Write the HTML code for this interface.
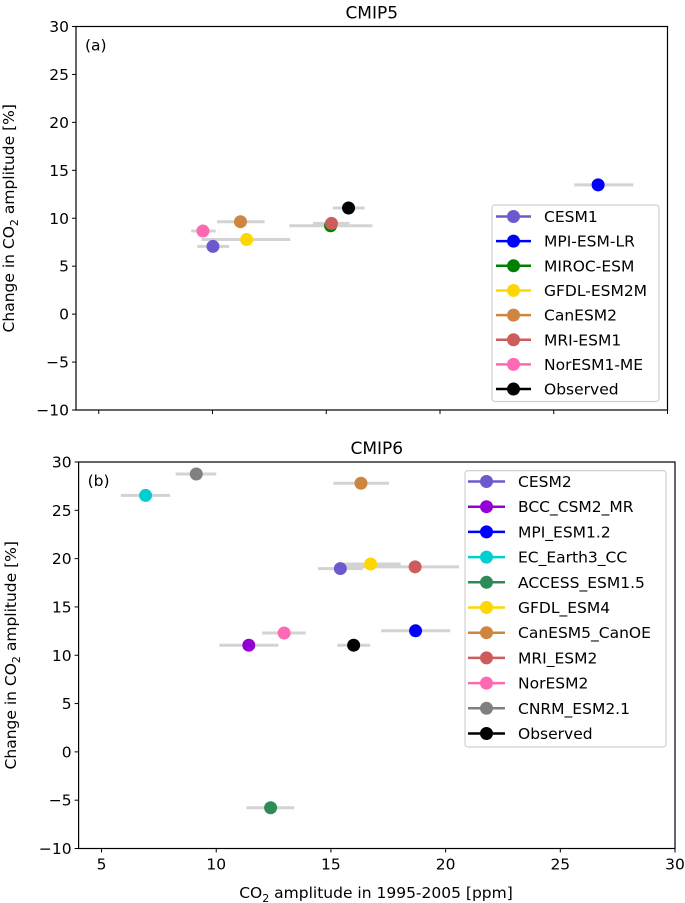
<!DOCTYPE html>
<html><head><meta charset="utf-8"><style>
html,body{margin:0;padding:0;background:#fff;}
svg{display:block;font-family:"DejaVu Sans","Liberation Sans",sans-serif;}
</style></head><body>
<svg id="chart" width="685" height="903" viewBox="0 0 685 903" xmlns="http://www.w3.org/2000/svg"></svg>
<script>
// Panel (a) CMIP5 data
const namesA = ["CESM1","MPI-ESM-LR","MIROC-ESM","GFDL-ESM2M","CanESM2","MRI-ESM1","NorESM1-ME","Observed"];
const colorsA = ["#6a5acd","#0000ff","#008000","#ffd700","#cd853f","#cd5c5c","#ff69b4","#000000"];
const xA = [10.02,26.95,15.19,11.5,11.23,15.23,9.58,15.98];
const yA = [7.06,13.48,9.22,7.78,9.64,9.46,8.67,11.07];
const xLoA = [9.33,25.9,13.38,9.52,10.2,14.42,9.06,15.29];
const xHiA = [10.73,28.5,17.03,13.42,12.29,16.02,10.14,16.69];
// Panel (b) CMIP6 data
const namesB = ["CESM2","BCC_CSM2_MR","MPI_ESM1.2","EC_Earth3_CC","ACCESS_ESM1.5","GFDL_ESM4","CanESM5_CanOE","MRI_ESM2","NorESM2","CNRM_ESM2.1","Observed"];
const colorsB = ["#6a5acd","#9400d3","#0000ff","#00ced1","#2e8b57","#ffd700","#cd853f","#cd5c5c","#ff69b4","#808080","#000000"];
const xB = [15.41,11.42,18.69,6.92,12.37,16.73,16.31,18.67,12.96,9.13,15.99];
const yB = [18.97,11.04,12.53,26.54,-5.78,19.44,27.8,19.15,12.3,28.76,11.04];
const xLoB = [14.44,10.14,17.19,5.84,11.32,15.49,15.11,15.35,12.0,8.23,15.28];
const xHiB = [16.39,12.71,20.2,7.99,13.4,18.04,17.53,20.58,13.9,10.0,16.71];
const xTicks = [5,10,15,20,25,30];
const yTicks = [-10,-5,0,5,10,15,20,25,30];

const NS="http://www.w3.org/2000/svg";
const svg=document.getElementById('chart');
function mk(tag,attrs,parent,text){const e=document.createElementNS(NS,tag);for(const k in attrs)e.setAttribute(k,attrs[k]);if(text!==undefined)e.textContent=text;(parent||svg).appendChild(e);return e;}

function panel(cfg){
  const g=mk('g',{});
  
  
  const L=cfg.left,R=cfg.right,T=cfg.top,B=cfg.bottom;
  const sx=v=>L+(v-4)/(30-4)*(R-L);
  const sy=v=>B-(v+10)/40*(B-T);
  const t=mk('text',{x:(L+R)/2,y:T-8,'text-anchor':'middle','font-size':17},g,cfg.title);
  
  
  for(let i=0;i<cfg.x.length;i++){
    const eb=mk('line',{x1:sx(cfg.lo[i]),x2:sx(cfg.hi[i]),y1:sy(cfg.y[i]),y2:sy(cfg.y[i]),stroke:'#d3d3d3','stroke-width':3},g);
    
    
  }
  for(let i=0;i<cfg.x.length;i++){
    const c=mk('circle',{cx:sx(cfg.x[i]),cy:sy(cfg.y[i]),r:6.5,fill:cfg.colors[i]},g);
    
    
  }
  const fr=mk('rect',{x:L,y:T,width:R-L,height:B-T,fill:'none',stroke:'#000','stroke-width':1.2},g);
  
  
  xTicks.forEach(v=>{
    mk('line',{x1:sx(v),x2:sx(v),y1:B,y2:B+4,stroke:'#000'},g);
    if(cfg.xlabels){const tl=mk('text',{x:sx(v),y:B+21,'text-anchor':'middle','font-size':15.5},g,String(v));
      
      }
  });
  yTicks.forEach(v=>{
    mk('line',{x1:L-4,x2:L,y1:sy(v),y2:sy(v),stroke:'#000'},g);
    const tl=mk('text',{x:L-7,y:sy(v)+5.5,'text-anchor':'end','font-size':15.5},g,(v<0?'\u2212'+(-v):String(v)));
    
    
  });
  const pl=mk('text',{x:L+9,y:T+24,'font-size':15.5},g,cfg.plabel);
  
  
  const yl=mk('text',{transform:`translate(${cfg.ylx},${(T+B)/2}) rotate(-90)`,'text-anchor':'middle','font-size':15.5},g);
  
  
  yl.innerHTML='Change in CO<tspan font-size="11" dy="4">2</tspan><tspan dy="-4"> amplitude [%]</tspan>';
  const lg=cfg.leg;
  const lb=mk('rect',{x:lg.x,y:lg.y,width:lg.w,height:lg.h,rx:3,fill:'#fff',stroke:'#d0d0d0','stroke-width':1.2},g);
  
  
  for(let i=0;i<cfg.names.length;i++){
    const yy=lg.y0+i*lg.dy;
    const e=mk('g',{},g);
    
    
    mk('line',{x1:lg.lx1,x2:lg.lx2,y1:yy,y2:yy,stroke:cfg.colors[i],'stroke-width':2.5},e);
    mk('circle',{cx:(lg.lx1+lg.lx2)/2,cy:yy,r:6.5,fill:cfg.colors[i]},e);
    mk('text',{x:lg.tx,y:yy+5.5,'font-size':15.5},e,cfg.names[i]);
  }
}
panel({id:'panel-cmip5',title:'CMIP5',plabel:'(a)',left:76,right:667.5,top:26.5,bottom:410,xlabels:false,ylx:14,
  names:namesA,colors:colorsA,x:xA,y:yA,lo:xLoA,hi:xHiA,
  leg:{x:492,y:205,w:167,h:196.5,y0:216.5,dy:24.65,lx1:496,lx2:531,tx:544}});
panel({id:'panel-cmip6',title:'CMIP6',plabel:'(b)',left:78.6,right:675,top:462,bottom:848.5,xlabels:true,ylx:16,
  names:namesB,colors:colorsB,x:xB,y:yB,lo:xLoB,hi:xHiB,
  leg:{x:465,y:470.6,w:201,h:276.4,y0:481.5,dy:25.2,lx1:468,lx2:505,tx:518}});
const xl=mk('text',{x:376,y:898,'text-anchor':'middle','font-size':15.5});


xl.innerHTML='CO<tspan font-size="11" dy="4">2</tspan><tspan dy="-4"> amplitude in 1995-2005 [ppm]</tspan>';
</script>
</body></html>
